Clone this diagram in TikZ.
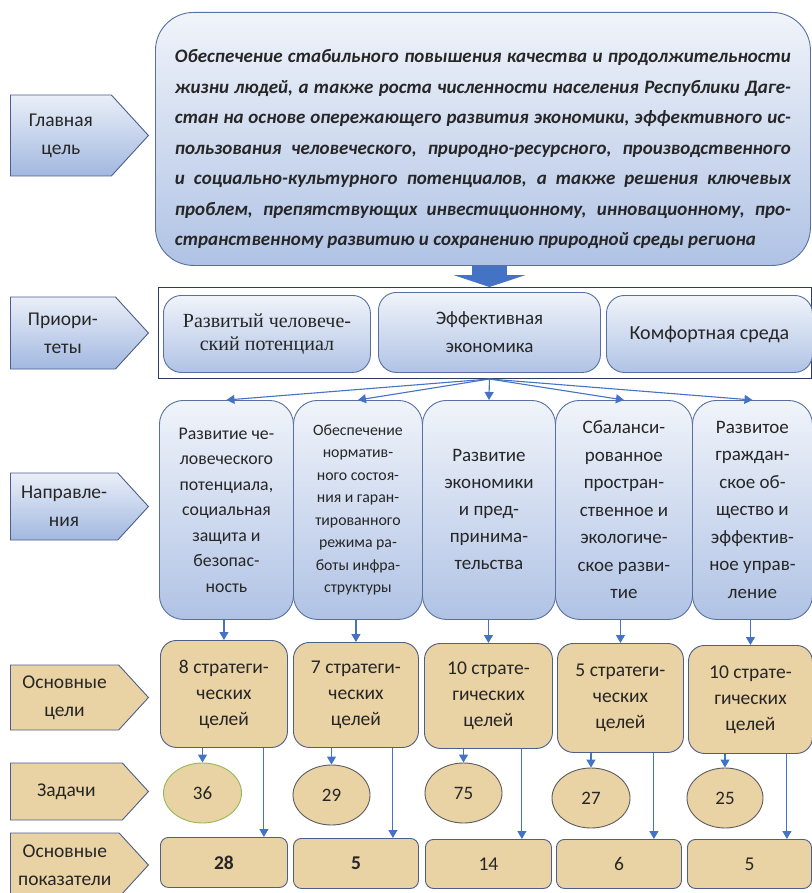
\documentclass[tikz,border=0pt]{standalone}
\usepackage{fontspec}
\setmainfont{Carlito}
\newfontfamily\timesfont{Liberation Serif}
\usetikzlibrary{arrows.meta,shapes.symbols,shapes.geometric,positioning}
\definecolor{paleblue}{RGB}{234, 239, 248}
\definecolor{midblue}{RGB}{162, 184, 224}
\definecolor{boxline}{RGB}{88, 112, 160}
\definecolor{papyrus}{RGB}{233, 210, 163}
\definecolor{tanline}{RGB}{76, 94, 138}
\definecolor{linkblue}{RGB}{68, 114, 196}
\definecolor{framecol}{RGB}{46, 60, 98}
\definecolor{ovalgreen}{RGB}{146, 186, 84}
\definecolor{ovalline}{RGB}{92, 92, 96}
\definecolor{inkgray}{RGB}{38, 38, 38}

\begin{document}
\begin{tikzpicture}[x=1pt, y=-1pt,
    tagshape/.style={signal, signal to=east, signal pointer angle=95, draw=tanline,
      line width=0.9pt, minimum width=138pt, inner sep=0pt, align=center,
      text=inkgray, font=\fontsize{19.5}{28}\selectfont, anchor=west},
    bluetag/.style={tagshape, top color=paleblue, bottom color=midblue},
    tantag/.style={tagshape, fill=papyrus},
    bluebox/.style={rectangle, draw=boxline, line width=0.9pt, top color=paleblue!70!white,
      bottom color=midblue!85!white, anchor=north west, align=center, inner sep=1pt, text=inkgray},
    tanbox/.style={rectangle, draw=tanline, line width=0.9pt, fill=papyrus, anchor=north west,
      align=center, inner sep=1pt, text=inkgray, font=\fontsize{19.5}{26}\selectfont},
    taskoval/.style={ellipse, draw=ovalline, line width=0.9pt, fill=papyrus, inner sep=0pt,
      minimum width=78pt, minimum height=60pt, text=inkgray, font=\fontsize{19}{22}\selectfont},
    link/.style={draw=linkblue, line width=1.1pt, -{Triangle[width=9pt,length=8pt]}}
  ]
    \useasboundingbox (0,0) rectangle (811,893);

    % Left-hand labels
    \node[bluetag, minimum height=81pt] (tagGoal) at (10,135.5) {Главная\\цель};
    \node[bluetag, minimum height=72pt] (tagPrio) at (10,333) {Приори-\\теты};
    \node[bluetag, minimum height=67pt] (tagDir) at (10,506.5) {Направле-\\ния};
    \node[tantag, minimum height=65pt] (tagAims) at (10,697.5) {Основные\\цели};
    \node[tantag, minimum height=57pt] (tagTasks) at (10,791.5) {Задачи};
    \node[tantag, minimum height=64pt] (tagInd) at (10,865) {Основные\\показатели};

    % Main goal
    \node[bluebox, rounded corners=38pt, minimum width=655pt, minimum height=253pt,
      text width=616pt, align=justify, inner sep=0pt,
      font=\bfseries\itshape\fontsize{19}{30.5}\selectfont] (goal) at (155,12)
      {\rule{0pt}{34pt}Обеспечение стабильного повышения качества и продолжительности\linebreak
       жизни людей, а также роста численности населения Республики Даге-\linebreak
       стан на основе опережающего развития экономики, эффективного ис-\linebreak
       пользования человеческого, природно-ресурсного, производственного\linebreak
       и социально-культурного потенциалов, а также решения ключевых\linebreak
       проблем, препятствующих инвестиционному, инновационному, про-\linebreak
       странственному развитию и сохранению природной среды региона};

    % Priorities
    \node[draw=framecol, line width=1pt, minimum width=653pt, minimum height=91pt,
      anchor=north west, inner sep=0pt] (prioframe) at (158,287) {};
    \node[bluebox, rounded corners=18pt, minimum width=207pt, minimum height=77pt,
      font=\timesfont\fontsize{20}{23}\selectfont] (p1) at (163,295)
      {Развитый человече-\\ский потенциал};
    \node[bluebox, rounded corners=18pt, minimum width=222pt, minimum height=80pt,
      font=\fontsize{19}{28}\selectfont] (p2) at (378,292) {Эффективная\\экономика};
    \node[bluebox, rounded corners=18pt, minimum width=206pt, minimum height=77pt,
      font=\fontsize{20}{26}\selectfont] (p3) at (606,295) {Комфортная среда};

    % Directions
    \node[bluebox, rounded corners=24pt, minimum width=134pt, minimum height=219pt,
      font=\fontsize{17.8}{25.5}\selectfont] (d1) at (159,400)
      {Развитие че-\\ловеческого\\потенциала,\\социальная\\защита и\\безопас-\\ность};
    \node[bluebox, rounded corners=24pt, minimum width=129pt, minimum height=219pt,
      font=\fontsize{15.8}{22.5}\selectfont] (d2) at (293,400)
      {Обеспечение\\норматив-\\ного состоя-\\ния и гаран-\\тированного\\режима ра-\\боты инфра-\\структуры};
    \node[bluebox, rounded corners=24pt, minimum width=133pt, minimum height=219pt,
      font=\fontsize{19}{27}\selectfont] (d3) at (422,400)
      {Развитие\\экономики\\и пред-\\принима-\\тельства};
    \node[bluebox, rounded corners=24pt, minimum width=137pt, minimum height=219pt,
      font=\fontsize{19}{27.5}\selectfont] (d4) at (555,400)
      {Сбаланси-\\рованное\\простран-\\ственное и\\экологиче-\\ское разви-\\тие};
    \node[bluebox, rounded corners=24pt, minimum width=120pt, minimum height=219pt,
      font=\fontsize{19}{27.5}\selectfont] (d5) at (692,400)
      {Развитое\\граждан-\\ское об-\\щество и\\эффектив-\\ное управ-\\ление};

    % Main goals
    \node[tanbox, rounded corners=16pt, minimum width=127pt, minimum height=107pt] (g1) at (160,640) {8 стратеги-\\ческих\\целей};
    \node[tanbox, rounded corners=16pt, minimum width=125pt, minimum height=105pt] (g2) at (293,642) {7 стратеги-\\ческих\\целей};
    \node[tanbox, rounded corners=16pt, minimum width=128pt, minimum height=105pt] (g3) at (424,643) {10 страте-\\гических\\целей};
    \node[tanbox, rounded corners=16pt, minimum width=126pt, minimum height=109pt] (g4) at (557,643) {5 стратеги-\\ческих\\целей};
    \node[tanbox, rounded corners=16pt, minimum width=124pt, minimum height=108pt] (g5) at (688,645) {10 страте-\\гических\\целей};

    % Tasks
    \node[taskoval, draw=ovalgreen] (t1) at (202.5,793) {36};
    \node[taskoval, minimum width=77pt] (t2) at (331.5,795) {29};
    \node[taskoval, minimum width=77pt] (t3) at (463.5,793) {75};
    \node[taskoval] (t4) at (591,798) {27};
    \node[taskoval, minimum width=76pt] (t5) at (725,798) {25};

    % Key indicators
    \node[tanbox, rounded corners=8pt, minimum width=127pt, minimum height=50pt] (k1) at (160,837) {\bfseries 28};
    \node[tanbox, rounded corners=8pt, minimum width=125pt, minimum height=50pt] (k2) at (293,838) {\bfseries 5};
    \node[tanbox, rounded corners=8pt, minimum width=126pt, minimum height=49pt] (k3) at (425,839) {14};
    \node[tanbox, rounded corners=8pt, minimum width=125pt, minimum height=49pt] (k4) at (556,839) {6};
    \node[tanbox, rounded corners=8pt, minimum width=124pt, minimum height=49pt] (k5) at (687,839) {5};

    % Connectors
    \draw[draw=linkblue, line width=35pt, -{Triangle[width=72pt,length=12pt]}]
      (goal.south -| p2.north) -- (prioframe.north -| p2.north);
    \coordinate (hub) at (prioframe.south -| p2.south);
    \foreach \i in {1,...,5}
      \draw[link] (hub) -- (d\i.north);
    \foreach \i in {1,...,5}
      \draw[link] (g\i.north |- d\i.south) -- (g\i.north);
    \foreach \i in {1,...,5}
      \draw[link] (t\i.north |- g\i.south) -- (t\i.north);
    \foreach \i/\dx in {1/24,2/26,3/31,4/30,5/26}
      \draw[link] ([xshift=-\dx pt]g\i.south east) -- ([xshift=-\dx pt]g\i.south east |- k\i.north);
  \end{tikzpicture}
\end{document}
